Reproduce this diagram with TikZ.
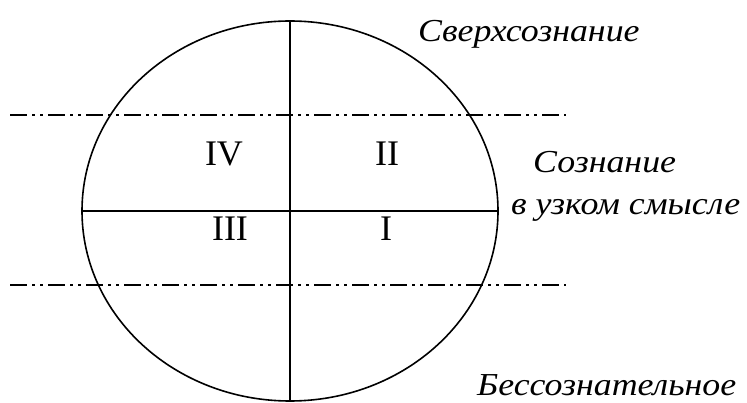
\documentclass[tikz,border=0pt]{standalone}
\usepackage{fontspec}
\setmainfont{Liberation Serif}
\newfontfamily\lblfont[FakeStretch=1.12]{Liberation Serif Italic}
\usetikzlibrary{shapes.geometric}
\begin{document}
\begin{tikzpicture}[x=1pt,y=-1pt,
  ring/.style={draw,ellipse,line width=1.6pt,inner sep=0pt,minimum width=416pt,minimum height=380pt},
  axis/.style={line width=1.6pt},
  level/.style={line width=1.6pt,dash pattern=on 17pt off 5pt on 3pt off 5pt on 3pt off 5pt},
  numeral/.style={anchor=base,inner sep=0pt,font=\fontsize{36}{40}\selectfont},
  zone/.style={anchor=base west,inner sep=0pt,font=\lblfont\fontsize{32}{42}\selectfont}]
\useasboundingbox (0,0) rectangle (747,403);
\node[ring] (E) at (290,211) {};
\draw[axis] (E.north) -- (E.south);
\draw[axis] (E.west) -- (E.east);
\coordinate (u1) at (10,115); \coordinate (u2) at (566,115);
\coordinate (d1) at (10,285); \coordinate (d2) at (566,285);
\draw[level] (u1) -- (u2);
\draw[level] (d1) -- (d2);
\node[numeral] (n4) at (224,166) {IV};
\node[numeral] (n2) at (387,166) {II};
\node[numeral] (n3) at (230,241) {III};
\node[numeral] (n1) at (386,241) {I};
\node[zone] (t1) at (418,42) {Сверхсознание};
\node[zone] (t2) at (533,173) {Сознание};
\node[zone] (t3) at (511,215) {в узком смысле};
\node[zone] (t4) at (477,395) {Бессознательное};
\end{tikzpicture}
\end{document}
